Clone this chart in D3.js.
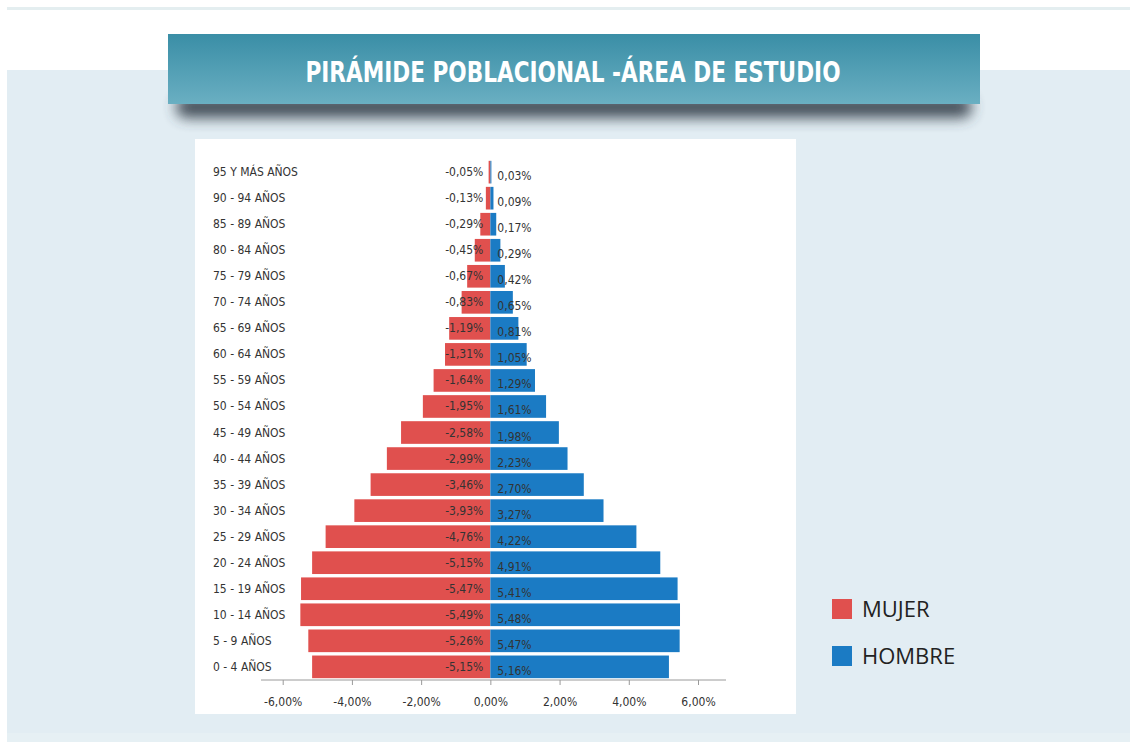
<!DOCTYPE html>
<html>
<head>
<meta charset="utf-8">
<script src="https://d3js.org/d3.v7.min.js"></script>
<style>
  body { margin: 0; background: #fff; }
  svg { display: block; }
</style>
</head>
<body>
<div id="chart"></div>
<script>
// age groups, top to bottom
var categories = ["95 Y MÁS AÑOS", "90 - 94 AÑOS", "85 - 89 AÑOS", "80 - 84 AÑOS", "75 - 79 AÑOS",
  "70 - 74 AÑOS", "65 - 69 AÑOS", "60 - 64 AÑOS", "55 - 59 AÑOS", "50 - 54 AÑOS",
  "45 - 49 AÑOS", "40 - 44 AÑOS", "35 - 39 AÑOS", "30 - 34 AÑOS", "25 - 29 AÑOS",
  "20 - 24 AÑOS", "15 - 19 AÑOS", "10 - 14 AÑOS", "5 - 9 AÑOS", "0 - 4 AÑOS"];
var mujer = [-0.05, -0.13, -0.29, -0.45, -0.67, -0.83, -1.19, -1.31, -1.64, -1.95,
  -2.58, -2.99, -3.46, -3.93, -4.76, -5.15, -5.47, -5.49, -5.26, -5.15];
var hombre = [0.03, 0.09, 0.17, 0.29, 0.42, 0.65, 0.81, 1.05, 1.29, 1.61,
  1.98, 2.23, 2.70, 3.27, 4.22, 4.91, 5.41, 5.48, 5.47, 5.16];
var xTicks = [-6, -4, -2, 0, 2, 4, 6];
var series = ["MUJER", "HOMBRE"];
var colors = ["#e0504e", "#1b7bc4"];

var W = 1130, H = 742;
var svg = d3.select("#chart").append("svg").attr("width", W).attr("height", H);
var defs = svg.append("defs");

var grad = defs.append("linearGradient").attr("id", "bannerGrad")
  .attr("x1", 0).attr("y1", 0).attr("x2", 0).attr("y2", 1);
grad.append("stop").attr("offset", "0%").attr("stop-color", "#3a8ea6");
grad.append("stop").attr("offset", "100%").attr("stop-color", "#6aafc2");

var blur = defs.append("filter").attr("id", "shadow")
  .attr("x", "-10%").attr("y", "-80%").attr("width", "120%").attr("height", "260%");
blur.append("feGaussianBlur").attr("stdDeviation", 7);

// page background
svg.append("rect").attr("x", 7).attr("y", 7).attr("width", W - 7).attr("height", 3).attr("fill", "#e4eef0");
svg.append("rect").attr("x", 7).attr("y", 70).attr("width", W - 7).attr("height", 672).attr("fill", "#e2edf3");
svg.append("rect").attr("x", 7).attr("y", 733).attr("width", W - 7).attr("height", 9).attr("fill", "#e6f0f4");

// banner + shadow
svg.append("rect").attr("x", 176).attr("y", 96).attr("width", 796).attr("height", 22)
  .attr("rx", 10).attr("fill", "#34414c").attr("opacity", 0.9).attr("filter", "url(#shadow)");
svg.append("rect").attr("x", 168).attr("y", 34).attr("width", 812).attr("height", 70)
  .attr("fill", "url(#bannerGrad)");
svg.append("text").attr("x", 573).attr("y", 82)
  .attr("text-anchor", "middle")
  .attr("textLength", 535).attr("lengthAdjust", "spacingAndGlyphs")
  .style("font-family", "'Liberation Sans Narrow', 'DejaVu Sans Condensed', 'Liberation Sans', sans-serif")
  .style("font-weight", "bold").style("font-size", "28px").attr("fill", "#fff")
  .text("PIRÁMIDE POBLACIONAL -ÁREA DE ESTUDIO");

// chart box
svg.append("rect").attr("x", 195).attr("y", 139).attr("width", 601).attr("height", 575).attr("fill", "#fff");

var x = d3.scaleLinear().domain([-6, 6]).range([282.7, 698]);
var y = d3.scaleBand().domain(categories).range([159, 680]).paddingInner(0.13).paddingOuter(0.07);

var font = "'Liberation Sans Narrow', 'DejaVu Sans Condensed', 'Open Sans', sans-serif";
var g = svg.append("g");

g.selectAll(".bar-m").data(categories).enter().append("rect")
  .attr("x", function(d, i) { return x(mujer[i]); })
  .attr("y", function(d) { return y(d); })
  .attr("width", function(d, i) { return x(0) - x(mujer[i]); })
  .attr("height", y.bandwidth())
  .attr("fill", colors[0]);

g.selectAll(".bar-h").data(categories).enter().append("rect")
  .attr("x", x(0))
  .attr("y", function(d) { return y(d); })
  .attr("width", function(d, i) { return x(hombre[i]) - x(0); })
  .attr("height", y.bandwidth())
  .attr("fill", colors[1]);

function fmt(v) { return v.toFixed(2).replace(".", ",") + "%"; }

g.selectAll(".lab-m").data(categories).enter().append("text")
  .attr("x", x(0) - 7)
  .attr("y", function(d) { return y(d) + y.bandwidth() / 2 + 4; })
  .attr("text-anchor", "end")
  .style("font-family", font).style("font-size", "12px").attr("fill", "#333")
  .text(function(d, i) { return fmt(mujer[i]); });

g.selectAll(".lab-h").data(categories).enter().append("text")
  .attr("x", x(0) + 7)
  .attr("y", function(d) { return y(d) + y.bandwidth() / 2 + 8; })
  .style("font-family", font).style("font-size", "12px").attr("fill", "#333")
  .text(function(d, i) { return fmt(hombre[i]); });

// category labels
g.selectAll(".cat").data(categories).enter().append("text")
  .attr("x", 213)
  .attr("y", function(d) { return y(d) + y.bandwidth() / 2 + 4; })
  .style("font-family", font).style("font-size", "12px").attr("fill", "#333")
  .text(function(d) { return d; });

// x axis
var axis = g.append("g").attr("transform", "translate(0,680)")
  .call(d3.axisBottom(x).tickValues(xTicks).tickSize(5).tickFormat(fmt));
axis.select(".domain").remove();
axis.append("line").attr("x1", 261).attr("x2", 726).attr("stroke", "#9a9a9a");
axis.selectAll(".tick line").attr("stroke", "#9a9a9a");
axis.selectAll(".tick text").attr("y", 17).attr("fill", "#333")
  .style("font-family", font).style("font-size", "12px");

// legend
var leg = svg.selectAll(".leg").data(series).enter().append("g")
  .attr("transform", function(d, i) { return "translate(832," + (599 + i * 47) + ")"; });
leg.append("rect").attr("width", 20).attr("height", 20).attr("fill", function(d, i) { return colors[i]; });
leg.append("text").attr("x", 30).attr("y", 18)
  .style("font-family", "'Open Sans', 'Liberation Sans', sans-serif").style("font-size", "22px").attr("fill", "#222")
  .text(function(d) { return d; });
</script>
</body>
</html>
